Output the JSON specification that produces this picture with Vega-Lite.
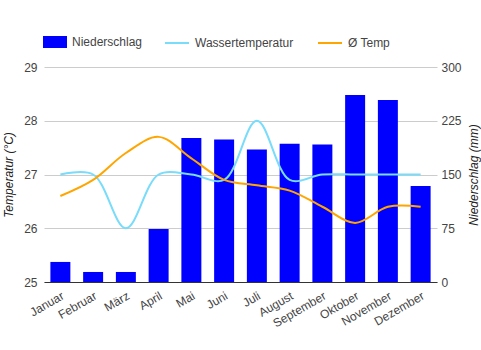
{
  "$schema": "https://vega.github.io/schema/vega-lite/v6.json",
  "width": 393,
  "height": 215,
  "autosize": {"type": "none"},
  "padding": {"left": 44, "top": 67, "right": 44, "bottom": 68},
  "config": {
    "font": "Liberation Sans",
    "view": {"stroke": null},
    "axis": {
      "labelFont": "Liberation Sans",
      "labelFontSize": 12,
      "labelColor": "#444444",
      "titleFont": "Liberation Sans",
      "titleFontSize": 12,
      "titleFontWeight": "normal",
      "titleFontStyle": "italic",
      "titleColor": "#222222"
    },
    "legend": {
      "labelFont": "Liberation Sans",
      "labelFontSize": 12,
      "labelColor": "#444444"
    }
  },
  "data": {
    "values": [
      {"Monat": "Januar", "Niederschlag": 28, "Wasser": 27, "Temp": 26.6},
      {"Monat": "Februar", "Niederschlag": 14, "Wasser": 27, "Temp": 26.9},
      {"Monat": "März", "Niederschlag": 14, "Wasser": 26, "Temp": 27.4},
      {"Monat": "April", "Niederschlag": 74, "Wasser": 27, "Temp": 27.7},
      {"Monat": "Mai", "Niederschlag": 201, "Wasser": 27, "Temp": 27.3},
      {"Monat": "Juni", "Niederschlag": 199, "Wasser": 26.9, "Temp": 26.9},
      {"Monat": "Juli", "Niederschlag": 185, "Wasser": 28, "Temp": 26.8},
      {"Monat": "August", "Niederschlag": 193, "Wasser": 26.9, "Temp": 26.7},
      {"Monat": "September", "Niederschlag": 192, "Wasser": 27, "Temp": 26.4},
      {"Monat": "Oktober", "Niederschlag": 261, "Wasser": 27, "Temp": 26.1},
      {"Monat": "November", "Niederschlag": 254, "Wasser": 27, "Temp": 26.4},
      {"Monat": "Dezember", "Niederschlag": 134, "Wasser": 27, "Temp": 26.4}
    ]
  },
  "encoding": {
    "x": {
      "field": "Monat",
      "type": "nominal",
      "sort": null,
      "scale": {"paddingInner": 0.39, "paddingOuter": 0.195},
      "axis": {
        "title": null,
        "labelAngle": -30,
        "labelAlign": "right",
        "labelBaseline": "top",
        "ticks": false,
        "domainColor": "#333333",
        "labelPadding": 8,
        "grid": false
      }
    }
  },
  "layer": [
    {
      "mark": {"type": "bar"},
      "encoding": {
        "y": {
          "field": "Niederschlag",
          "type": "quantitative",
          "scale": {"domain": [0, 300]},
          "axis": {
            "orient": "right",
            "values": [0, 75, 150, 225, 300],
            "grid": false,
            "ticks": false,
            "domain": false,
            "labelPadding": 4,
            "titlePadding": 7,
            "titleAngle": 270,
            "titleBaseline": "top",
            "title": "Niederschlag (mm)"
          }
        },
        "fill": {
          "datum": "Niederschlag",
          "type": "nominal",
          "scale": {"domain": ["Niederschlag"], "range": ["#0000ff"]},
          "legend": {
            "title": null,
            "orient": "none",
            "legendX": -1,
            "legendY": -37,
            "symbolType": "M-1,-0.5H1V0.5H-1Z",
            "symbolSize": 576,
            "symbolStrokeWidth": 0,
            "labelOffset": 5
          }
        }
      }
    },
    {
      "encoding": {
        "y": {
          "type": "quantitative",
          "scale": {"domain": [25, 29]},
          "axis": {
            "values": [25, 26, 27, 28, 29],
            "grid": true,
            "gridColor": "#cccccc",
            "ticks": false,
            "domain": false,
            "labelPadding": 7,
            "titlePadding": 8,
            "title": "Temperatur (°C)"
          }
        },
        "stroke": {
          "type": "nominal",
          "scale": {"domain": ["Wassertemperatur", "Ø Temp"], "range": ["#78dcfa", "#ffa500"]},
          "legend": {
            "title": null,
            "orient": "none",
            "direction": "horizontal",
            "legendX": 120,
            "legendY": -37,
            "symbolType": "stroke",
            "symbolSize": 576,
            "symbolStrokeWidth": 2,
            "labelOffset": 5,
            "columnPadding": 20
          }
        }
      },
      "layer": [
        {
          "mark": {"type": "line", "interpolate": "catmull-rom", "strokeWidth": 2},
          "encoding": {
            "x": {"field": "Monat", "type": "nominal", "sort": null, "bandPosition": 0.5},
            "y": {"field": "Wasser", "type": "quantitative"},
            "stroke": {"datum": "Wassertemperatur"}
          }
        },
        {
          "mark": {"type": "line", "interpolate": "catmull-rom", "strokeWidth": 2},
          "encoding": {
            "x": {"field": "Monat", "type": "nominal", "sort": null, "bandPosition": 0.5},
            "y": {"field": "Temp", "type": "quantitative"},
            "stroke": {"datum": "Ø Temp"}
          }
        }
      ]
    }
  ],
  "resolve": {"scale": {"y": "independent"}}
}
